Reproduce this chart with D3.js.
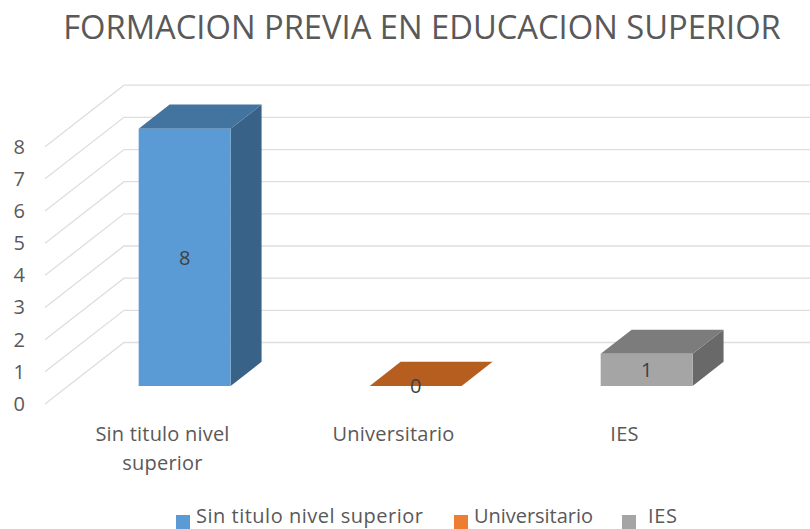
<!DOCTYPE html>
<html>
<head>
<meta charset="utf-8">
<script src="https://cdn.jsdelivr.net/npm/d3@7"></script>
<style>
    html, body { margin: 0; padding: 0; background: #fff; overflow: hidden; }
    text { font-family: "Open Sans", "Noto Sans", sans-serif; fill: #595959; }
</style>
</head>
<body>
<div id="chart"></div>
<script>
const title = "FORMACION PREVIA EN EDUCACION SUPERIOR";
const categories = ["Sin titulo nivel superior", "Universitario", "IES"];
const values = [8, 0, 1];
const yTicks = [0, 1, 2, 3, 4, 5, 6, 7, 8];
const frontColors = ["#5b9bd5", "#ed7d31", "#a5a5a5"];
const topColors = ["#43749f", "#b55e20", "#7c7c7c"];
const sideColors = ["#386287", "#9c5122", "#696969"];
const legendSwatches = ["#5b9bd5", "#ed7d31", "#a5a5a5"];

const width = 810;
const height = 529;

// Oblique projection: the floor runs up and to the right
const wallLeft = 45, wallRight = 738;
const wallDx = 79, wallDy = -61.5;
const barNear = 0.293, barFar = 0.685;

const svg = d3.select("#chart")
    .append("svg")
    .attr("width", width)
    .attr("height", height)
    .style("display", "block");

// Scales, on the front plane of the chart
const xScale = d3.scaleBand()
    .domain(categories)
    .range([46, 739])
    .paddingInner(0.602)
    .paddingOuter(0.301);

const yScale = d3.scaleLinear()
    .domain([0, 8])
    .range([404, 146.7]);

const project = (x, v, depth) => [x + depth * wallDx, yScale(v) + depth * wallDy];

svg.append("text")
    .attr("x", 422)
    .attr("y", 39)
    .attr("text-anchor", "middle")
    .style("font-size", "32.7px")
    .text(title);

// Gridlines: side wall and back wall
const grid = svg.append("g")
    .attr("fill", "none")
    .attr("stroke", "#dedede")
    .attr("stroke-width", 1.3);

grid.selectAll("path")
    .data(yTicks)
    .enter()
    .append("path")
    .attr("d", d => d3.line()([
        project(wallLeft, d, 0),
        project(wallLeft, d, 1),
        project(wallRight, d, 1)
    ]));

// Value axis
svg.append("g")
    .attr("transform", "translate(25,0)")
    .call(d3.axisLeft(yScale).tickValues(yTicks).tickSize(0).tickPadding(0).tickFormat(d3.format("d")))
    .call(g => g.select(".domain").remove())
    .selectAll("text")
    .style("font-size", "20px")
    .style("font-family", "\"Open Sans\", \"Noto Sans\", sans-serif")
    .attr("fill", "#595959");

// Bars: side, top, then front
const polygon = pts => pts.map(p => p.join(",")).join(" ");

const bars = svg.selectAll(".bar")
    .data(categories.map((name, i) => ({ name, value: values[i], i })))
    .enter()
    .append("g")
    .attr("class", "bar");

bars.append("polygon")
    .attr("fill", d => sideColors[d.i])
    .attr("points", d => {
        const x = xScale(d.name) + xScale.bandwidth();
        return polygon([
            project(x, 0, barNear), project(x, 0, barFar),
            project(x, d.value, barFar), project(x, d.value, barNear)
        ]);
    });

bars.append("polygon")
    .attr("fill", d => topColors[d.i])
    .attr("points", d => {
        const x0 = xScale(d.name), x1 = x0 + xScale.bandwidth();
        return polygon([
            project(x0, d.value, barNear), project(x1, d.value, barNear),
            project(x1, d.value, barFar), project(x0, d.value, barFar)
        ]);
    });

bars.append("polygon")
    .attr("fill", d => frontColors[d.i])
    .attr("points", d => {
        const x0 = xScale(d.name), x1 = x0 + xScale.bandwidth();
        return polygon([
            project(x0, 0, barNear), project(x1, 0, barNear),
            project(x1, d.value, barNear), project(x0, d.value, barNear)
        ]);
    });

// Data labels in the middle of the front face
bars.append("text")
    .attr("x", d => project(xScale(d.name) + xScale.bandwidth() / 2, 0, barNear)[0])
    .attr("y", d => project(0, d.value / 2, barNear)[1])
    .attr("dy", "0.36em")
    .attr("text-anchor", "middle")
    .style("font-size", "20px")
    .style("fill", "#404040")
    .text(d => d.value);

// Category labels, wrapped to two lines when too long
const catLabels = svg.selectAll(".cat")
    .data(categories)
    .enter()
    .append("text")
    .attr("class", "cat")
    .attr("text-anchor", "middle")
    .style("font-size", "20px")
    .style("letter-spacing", "0.2px")
    .attr("transform", d => `translate(${xScale(d) + xScale.bandwidth() / 2 + 1},441)`);

catLabels.each(function (d) {
    const text = d3.select(this);
    let line = [];
    let tspan = text.append("tspan").attr("x", 0).attr("y", 0);
    let lineNo = 0;
    d.split(" ").forEach(word => {
        line.push(word);
        tspan.text(line.join(" "));
        if (tspan.node().getComputedTextLength() > 170 && line.length > 1) {
            line.pop();
            tspan.text(line.join(" "));
            line = [word];
            lineNo++;
            tspan = text.append("tspan").attr("x", 0).attr("y", lineNo * 29).text(word);
        }
    });
});

// Legend
const legendX = [176, 454, 622];
const legendTextX = [196, 474, 648];
const legendTextWidth = [227, 119, 29];

const legend = svg.selectAll(".legend")
    .data(categories)
    .enter()
    .append("g")
    .attr("class", "legend");

legend.append("rect")
    .attr("x", (d, i) => legendX[i])
    .attr("y", 515)
    .attr("width", 14)
    .attr("height", 14)
    .attr("fill", (d, i) => legendSwatches[i]);

legend.append("text")
    .attr("x", (d, i) => legendTextX[i])
    .attr("y", 523)
    .attr("textLength", (d, i) => legendTextWidth[i])
    .attr("lengthAdjust", "spacing")
    .style("font-size", "20px")
    .text(d => d);
</script>
</body>
</html>
